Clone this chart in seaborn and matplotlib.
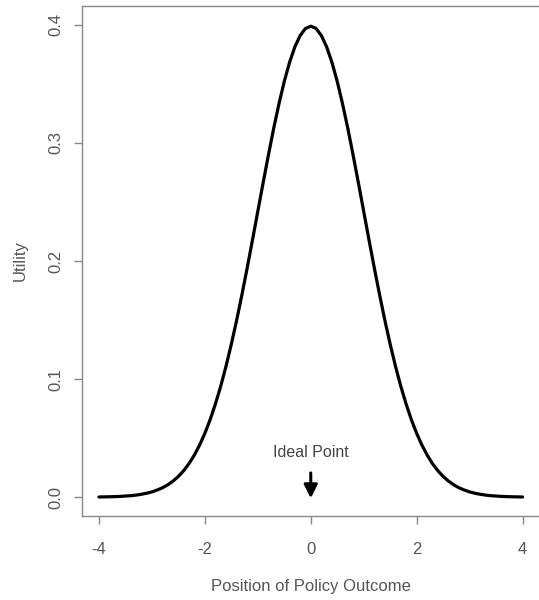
import matplotlib
matplotlib.use("Agg")
import matplotlib.pyplot as plt
import seaborn as sns
import pandas as pd

position = [-4.0, -3.9, -3.8, -3.7, -3.6, -3.5, -3.4, -3.3, -3.2, -3.1,
            -3.0, -2.9, -2.8, -2.7, -2.6, -2.5, -2.4, -2.3, -2.2, -2.1,
            -2.0, -1.9, -1.8, -1.7, -1.6, -1.5, -1.4, -1.3, -1.2, -1.1,
            -1.0, -0.9, -0.8, -0.7, -0.6, -0.5, -0.4, -0.3, -0.2, -0.1,
            0.0,
            0.1, 0.2, 0.3, 0.4, 0.5, 0.6, 0.7, 0.8, 0.9, 1.0,
            1.1, 1.2, 1.3, 1.4, 1.5, 1.6, 1.7, 1.8, 1.9, 2.0,
            2.1, 2.2, 2.3, 2.4, 2.5, 2.6, 2.7, 2.8, 2.9, 3.0,
            3.1, 3.2, 3.3, 3.4, 3.5, 3.6, 3.7, 3.8, 3.9, 4.0]
utility = [0.0001, 0.0002, 0.0003, 0.0004, 0.0006, 0.0009, 0.0012, 0.0017, 0.0024, 0.0033,
           0.0044, 0.0060, 0.0079, 0.0104, 0.0136, 0.0175, 0.0224, 0.0283, 0.0355, 0.0440,
           0.0540, 0.0656, 0.0790, 0.0940, 0.1109, 0.1295, 0.1497, 0.1714, 0.1942, 0.2179,
           0.2420, 0.2661, 0.2897, 0.3123, 0.3332, 0.3521, 0.3683, 0.3814, 0.3910, 0.3970,
           0.3989,
           0.3970, 0.3910, 0.3814, 0.3683, 0.3521, 0.3332, 0.3123, 0.2897, 0.2661, 0.2420,
           0.2179, 0.1942, 0.1714, 0.1497, 0.1295, 0.1109, 0.0940, 0.0790, 0.0656, 0.0540,
           0.0440, 0.0355, 0.0283, 0.0224, 0.0175, 0.0136, 0.0104, 0.0079, 0.0060, 0.0044,
           0.0033, 0.0024, 0.0017, 0.0012, 0.0009, 0.0006, 0.0004, 0.0003, 0.0002, 0.0001]
x_ticks = [-4, -2, 0, 2, 4]
y_ticks = [0.0, 0.1, 0.2, 0.3, 0.4]
ideal_point = 0.0
annotation = "Ideal Point"

sns.set_style("white")
plt.rcParams['font.family'] = ['Liberation Sans', 'DejaVu Sans']

df = pd.DataFrame({"Position of Policy Outcome": position, "Utility": utility})

fig = plt.figure(figsize=(5.39, 6.0), dpi=100)
ax = fig.add_axes([82/539, 84/600, (539.5-82)/539, (516-6)/600])
sns.lineplot(data=df, x="Position of Policy Outcome", y="Utility", ax=ax,
             color="black", linewidth=2.3, estimator=None, sort=False)

ax.set_xlim(-4.32, 4.32)
ax.set_ylim(-0.016, 0.416)
gray = "#555555"
for s in ax.spines.values():
    s.set_color("#888888")
    s.set_linewidth(1.0)
ax.set_xticks(x_ticks)
ax.set_xticklabels([str(t) for t in x_ticks])
ax.set_yticks(y_ticks)
ax.set_yticklabels([f"{t:.1f}" for t in y_ticks], rotation=90, va="center")
ax.tick_params(axis="both", direction="out", length=5.5, width=1.0, color="#888888",
               labelcolor=gray, labelsize=12, left=True, bottom=True)
ax.tick_params(axis="x", pad=13)
ax.tick_params(axis="y", pad=8)
ax.set_xlabel("Position of Policy Outcome", color=gray, fontsize=12, labelpad=16)
ax.set_ylabel("Utility", color=gray, fontsize=12, labelpad=15)

ax.annotate("", xy=(ideal_point, -0.001), xytext=(ideal_point, 0.0205),
            arrowprops=dict(arrowstyle="-|>", color="black", lw=2.2,
                            mutation_scale=20, shrinkA=0, shrinkB=0))
ax.text(ideal_point, 0.038, annotation, ha="center", va="center",
        color="#444444", fontsize=11.5)

fig.savefig("out.png", dpi=100)
